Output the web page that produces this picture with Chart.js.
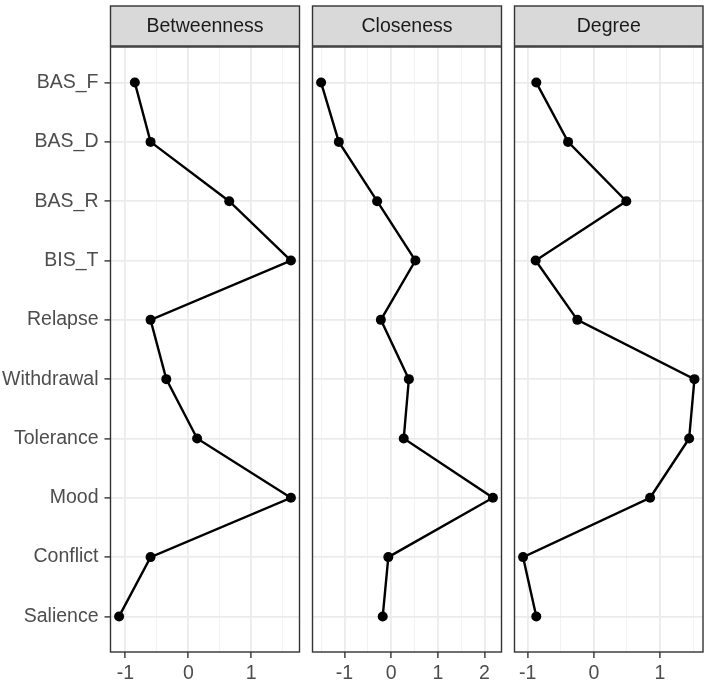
<!DOCTYPE html>
<html>
<head>
<meta charset="utf-8">
<script src="https://cdn.jsdelivr.net/npm/chart.js@4.4.0/dist/chart.umd.min.js"></script>
<style>
  body { margin: 0; background: #fff; }
  #wrap { position: relative; width: 708px; height: 684px; }
  #wrap canvas { position: absolute; left: 0; top: 0; }
</style>
</head>
<body>
<div id="wrap">
  <canvas id="c0" width="708" height="684"></canvas>
  <canvas id="c1" width="708" height="684"></canvas>
  <canvas id="c2" width="708" height="684"></canvas>
</div>
<script>
const nodes = ['BAS_F', 'BAS_D', 'BAS_R', 'BIS_T', 'Relapse', 'Withdrawal', 'Tolerance', 'Mood', 'Conflict', 'Salience'];
const measures = ['Betweenness', 'Closeness', 'Degree'];
const betweenness = [-0.85, -0.60, 0.65, 1.63, -0.60, -0.35, 0.14, 1.63, -0.60, -1.10];
const closeness = [-1.50, -1.12, -0.30, 0.52, -0.22, 0.38, 0.27, 2.18, -0.06, -0.18];
const degree = [-0.87, -0.39, 0.49, -0.88, -0.25, 1.52, 1.44, 0.85, -1.07, -0.87];
const series = [betweenness, closeness, degree];

// panel edges on the page (ggplot facet layout)
const panelLeft = [110.5, 312.5, 514.5];
const panelWidth = 189;

Chart.defaults.font.family = '"Liberation Sans", Arial, sans-serif';
Chart.defaults.font.size = 19.5;
Chart.defaults.color = '#4D4D4D';

const panelFrame = {
  id: 'panelFrame',
  afterDatasetsDraw(chart, args, opts) {
    const { ctx, chartArea: a } = chart;
    ctx.save();
    ctx.strokeStyle = '#333333';
    ctx.lineWidth = 1.4;
    ctx.strokeRect(a.left, a.top, a.right - a.left, a.bottom - a.top);
    // facet strip
    ctx.fillStyle = '#D9D9D9';
    ctx.fillRect(a.left, a.top - 41, a.right - a.left, 40);
    ctx.strokeRect(a.left, a.top - 41, a.right - a.left, 40);
    ctx.fillStyle = '#1A1A1A';
    ctx.font = '19.5px "Liberation Sans", Arial, sans-serif';
    ctx.textAlign = 'center';
    ctx.textBaseline = 'middle';
    ctx.fillText(opts.title, (a.left + a.right) / 2, a.top - 20);
    ctx.restore();
  }
};

function limits(vals) {
  const lo = Math.min(...vals), hi = Math.max(...vals);
  const pad = (hi - lo) * 0.05;
  return [lo - pad, hi + pad];
}

measures.forEach((m, i) => {
  const vals = series[i];
  const [xmin, xmax] = limits(vals);
  const first = i === 0;
  new Chart(document.getElementById('c' + i), {
    type: 'scatter',
    data: {
      datasets: [{
        data: vals.map((v, j) => ({ x: v, y: j })),
        showLine: true,
        borderColor: '#000',
        borderWidth: 2.4,
        pointRadius: 5,
        pointBackgroundColor: '#000',
        pointBorderWidth: 0,
        tension: 0
      }]
    },
    options: {
      responsive: false,
      animation: false,
      layout: {
        padding: {
          left: first ? 0 : panelLeft[i],
          right: 708 - panelLeft[i] - panelWidth,
          top: 47,
          bottom: 0
        }
      },
      plugins: {
        legend: { display: false },
        tooltip: { enabled: false },
        panelFrame: { title: m }
      },
      scales: {
        x: {
          type: 'linear',
          min: xmin,
          max: xmax,
          afterFit: s => { s.height = 32; },
          afterBuildTicks: s => {
            const t = [];
            for (let k = Math.ceil(s.min * 2); k <= Math.floor(s.max * 2); k++) t.push({ value: k / 2 });
            s.ticks = t;
          },
          border: { display: false },
          grid: {
            color: c => Number.isInteger(c.tick && c.tick.value) ? '#EBEBEB' : '#F2F2F2',
            lineWidth: c => Number.isInteger(c.tick && c.tick.value) ? 1.8 : 1,
            tickColor: c => Number.isInteger(c.tick && c.tick.value) ? '#333333' : 'rgba(0,0,0,0)',
            tickLength: 6,
            tickWidth: 1.4
          },
          ticks: {
            autoSkip: false,
            maxRotation: 0,
            padding: 4,
            callback: v => Number.isInteger(v) ? String(v) : ''
          }
        },
        y: {
          type: 'linear',
          reverse: true,
          min: -0.6,
          max: nodes.length - 0.4,
          afterFit: s => { s.width = first ? panelLeft[0] : 0; },
          afterBuildTicks: s => { s.ticks = nodes.map((n, j) => ({ value: j })); },
          border: { display: false },
          grid: {
            color: '#EBEBEB',
            lineWidth: 1.8,
            drawTicks: first,
            tickColor: '#333333',
            tickLength: 6,
            tickWidth: 1.4
          },
          ticks: {
            display: first,
            padding: 6,
            callback: v => nodes[v] || ''
          }
        }
      }
    },
    plugins: [panelFrame]
  });
});
</script>
</body>
</html>
